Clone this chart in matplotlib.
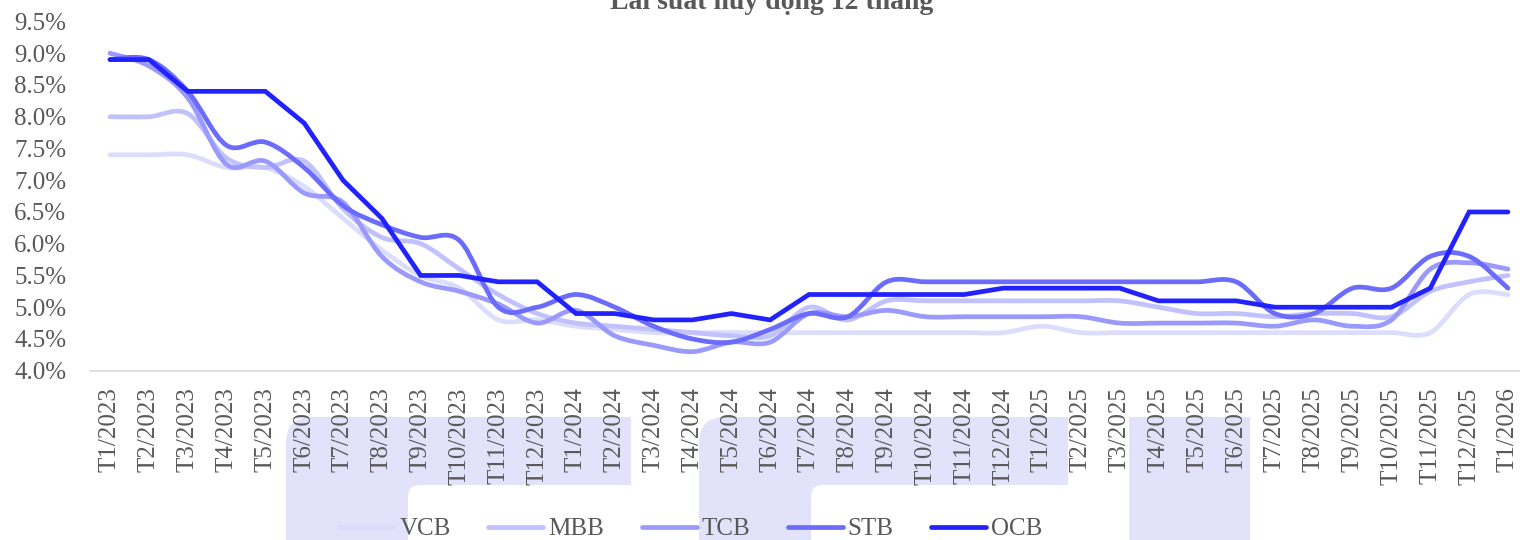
import matplotlib
matplotlib.use("Agg")
import matplotlib.pyplot as plt
from matplotlib.path import Path
from matplotlib.patches import PathPatch
from matplotlib.lines import Line2D
from matplotlib.ticker import FuncFormatter

# ---------------- data ----------------
months = ["T1/2023", "T2/2023", "T3/2023", "T4/2023", "T5/2023", "T6/2023", "T7/2023", "T8/2023",
          "T9/2023", "T10/2023", "T11/2023", "T12/2023", "T1/2024", "T2/2024", "T3/2024", "T4/2024",
          "T5/2024", "T6/2024", "T7/2024", "T8/2024", "T9/2024", "T10/2024", "T11/2024", "T12/2024",
          "T1/2025", "T2/2025", "T3/2025", "T4/2025", "T5/2025", "T6/2025", "T7/2025", "T8/2025",
          "T9/2025", "T10/2025", "T11/2025", "T12/2025", "T1/2026"]

vcb = [7.4, 7.4, 7.4, 7.2, 7.2, 6.9, 6.4, 5.9, 5.5, 5.3, 4.8, 4.8, 4.7, 4.65, 4.6, 4.6,
       4.6, 4.6, 4.6, 4.6, 4.6, 4.6, 4.6, 4.6, 4.7, 4.6, 4.6, 4.6, 4.6, 4.6, 4.6, 4.6,
       4.6, 4.6, 4.6, 5.2, 5.2]
mbb = [8.0, 8.0, 8.05, 7.35, 7.2, 7.3, 6.55, 6.1, 6.0, 5.6, 5.2, 4.9, 4.75, 4.7, 4.65, 4.6,
       4.55, 4.55, 5.0, 4.8, 5.1, 5.1, 5.1, 5.1, 5.1, 5.1, 5.1, 5.0, 4.9, 4.9, 4.85, 4.9,
       4.9, 4.85, 5.25, 5.4, 5.5]
tcb = [9.0, 8.8, 8.3, 7.25, 7.3, 6.8, 6.65, 5.8, 5.4, 5.25, 5.05, 4.75, 4.95, 4.55, 4.4, 4.3,
       4.45, 4.45, 4.9, 4.85, 4.95, 4.85, 4.85, 4.85, 4.85, 4.85, 4.75, 4.75, 4.75, 4.75, 4.7, 4.8,
       4.7, 4.8, 5.6, 5.7, 5.6]
stb = [8.9, 8.9, 8.4, 7.55, 7.6, 7.2, 6.6, 6.3, 6.1, 6.05, 5.0, 5.0, 5.2, 5.0, 4.7, 4.5,
       4.45, 4.65, 4.9, 4.85, 5.4, 5.4, 5.4, 5.4, 5.4, 5.4, 5.4, 5.4, 5.4, 5.4, 4.9, 4.9,
       5.3, 5.3, 5.8, 5.8, 5.3]
ocb = [8.9, 8.9, 8.4, 8.4, 8.4, 7.9, 7.0, 6.4, 5.5, 5.5, 5.4, 5.4, 4.9, 4.9, 4.8, 4.8,
       4.9, 4.8, 5.2, 5.2, 5.2, 5.2, 5.2, 5.3, 5.3, 5.3, 5.3, 5.1, 5.1, 5.1, 5.0, 5.0,
       5.0, 5.0, 5.3, 6.5, 6.5]

series_names = ["VCB", "MBB", "TCB", "STB", "OCB"]
series_values = [vcb, mbb, tcb, stb, ocb]
series_colors = ["#dcdcfd", "#c1c1fd", "#9a9afd", "#6b6bfd", "#2222ff"]
series_smooth = [True, True, True, True, False]

title = "Lãi suất huy động 12 tháng"
yticks = [4.0, 4.5, 5.0, 5.5, 6.0, 6.5, 7.0, 7.5, 8.0, 8.5, 9.0, 9.5]

# ---------------- style ----------------
W, H = 1520, 540
plt.rcParams["font.family"] = ["Liberation Serif", "DejaVu Serif"]
text_color = "#595959"

fig = plt.figure(figsize=(W / 100, H / 100), dpi=100)
fig.patch.set_facecolor("white")

# faint watermark shapes behind the category labels (decoration, pixel coords from top-left)
wm_color = "#e2e2fb"


def wm_shape(pts_codes):
    verts = [(px / W, 1 - py / H) for (px, py), _ in pts_codes]
    codes = [c for _, c in pts_codes]
    return PathPatch(Path(verts, codes), transform=fig.transFigure, facecolor=wm_color,
                     edgecolor="none", zorder=-5)


M, L, Q = Path.MOVETO, Path.LINETO, Path.CURVE3
r, r2 = 26, 12
shape_f1 = [((286, 545), M), ((286, 417 + r), L), ((286, 417), Q), ((286 + r, 417), Q),
            ((631, 417), L), ((631, 485), L), ((408 + r2, 485), L), ((408, 485), Q),
            ((408, 485 + r2), Q), ((408, 545), L), ((286, 545), Path.CLOSEPOLY)]
shape_f2 = [((699, 545), M), ((699, 417 + r), L), ((699, 417), Q), ((699 + r, 417), Q),
            ((1068, 417), L), ((1068, 485), L), ((811 + r2, 485), L), ((811, 485), Q),
            ((811, 485 + r2), Q), ((811, 545), L), ((699, 545), Path.CLOSEPOLY)]
shape_i = [((1129, 545), M), ((1129, 417), L), ((1250, 417), L), ((1250, 545), L),
           ((1129, 545), Path.CLOSEPOLY)]
for sh in (shape_f1, shape_f2, shape_i):
    fig.patches.append(wm_shape(sh))

ax = fig.add_axes([90 / W, 1 - 370.7 / H, 1 - 90 / W, (370.7 - 21.5) / H])
ax.set_facecolor("none")

x = list(range(len(months)))


def smooth_path(xs, ys):
    # Bezier (Catmull-Rom style) path through the data points, like a spreadsheet "smoothed line"
    n = len(xs)
    verts = [(xs[0], ys[0])]
    codes = [Path.MOVETO]
    for i in range(n - 1):
        x0, y0 = xs[max(i - 1, 0)], ys[max(i - 1, 0)]
        x1, y1 = xs[i], ys[i]
        x2, y2 = xs[i + 1], ys[i + 1]
        x3, y3 = xs[min(i + 2, n - 1)], ys[min(i + 2, n - 1)]
        c1 = (x1 + (x2 - x0) / 6.0, y1 + (y2 - y0) / 6.0)
        c2 = (x2 - (x3 - x1) / 6.0, y2 - (y3 - y1) / 6.0)
        verts += [c1, c2, (x2, y2)]
        codes += [Path.CURVE4, Path.CURVE4, Path.CURVE4]
    return Path(verts, codes)


lw = 3.4
handles = []
for k, (name, vals, col, sm) in enumerate(zip(series_names, series_values, series_colors, series_smooth)):
    if sm:
        patch = PathPatch(smooth_path(x, vals), fill=False, edgecolor=col, lw=lw,
                          capstyle="round", joinstyle="round", zorder=2 + k)
        ax.add_patch(patch)
    else:
        ax.plot(x, vals, color=col, lw=lw, solid_capstyle="round",
                solid_joinstyle="miter", zorder=2 + k)
    handles.append(Line2D([0], [0], color=col, lw=lw, solid_capstyle="round", label=name))

ax.set_xlim(-0.515, 36.31)
ax.set_ylim(4.0, 9.5)
ax.set_yticks(yticks)
ax.yaxis.set_major_formatter(FuncFormatter(lambda v, p: f"{v:.1f}%"))
ax.set_xticks(x)
ax.set_xticklabels(months, rotation=90, va="top", ha="center")

for s in ["top", "right", "left"]:
    ax.spines[s].set_visible(False)
ax.spines["bottom"].set_color("#d9d9d9")
ax.spines["bottom"].set_linewidth(1.2)
ax.tick_params(axis="both", length=0, colors=text_color, labelsize=18)
ax.tick_params(axis="y", pad=17)
ax.tick_params(axis="x", pad=12)

# title sits partly above the top edge, as in the reference crop
fig.text(772 / W, 1 - 9 / H, title, ha="center", va="baseline", fontsize=20,
         fontweight="bold", color=text_color)

leg = fig.legend(handles=handles, loc="center", bbox_to_anchor=(691 / W, 1 - 529 / H),
                 ncol=5, frameon=False, fontsize=18, handlelength=2.2, handletextpad=0.2,
                 columnspacing=1.5, labelcolor=text_color)

fig.savefig("out.png", dpi=100, facecolor="white")
